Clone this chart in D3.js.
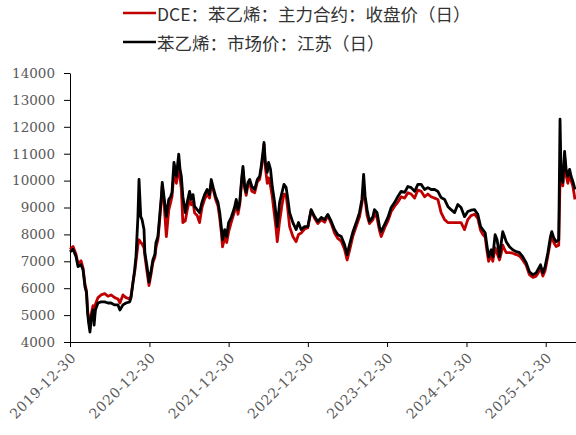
<!DOCTYPE html>
<html><head><meta charset="utf-8">
<script src="https://cdn.jsdelivr.net/npm/d3@7"></script>
<style>body{margin:0;background:#fff}svg{display:block}</style>
</head><body><svg id="c" width="576" height="435"></svg>
<script>
const dates = [
"2019-12-30","2020-01-13","2020-01-27","2020-02-05","2020-02-19","2020-02-28","2020-03-08","2020-03-15","2020-03-20","2020-03-25","2020-03-31","2020-04-06","2020-04-14","2020-04-19","2020-04-25","2020-05-07","2020-05-21","2020-06-07","2020-06-22","2020-07-06","2020-07-23","2020-08-07","2020-08-16","2020-08-30","2020-09-13","2020-09-30","2020-10-06","2020-10-15","2020-10-23","2020-10-29","2020-11-07","2020-11-12","2020-11-20","2020-11-26","2020-12-05","2020-12-09","2020-12-19","2020-12-28",
"2021-01-05","2021-01-15","2021-01-24","2021-01-29","2021-02-07","2021-02-15","2021-02-23","2021-02-27","2021-03-07","2021-03-18","2021-03-29","2021-04-07","2021-04-13","2021-04-22","2021-05-03","2021-05-14","2021-05-20","2021-05-26","2021-06-02","2021-06-13","2021-06-22","2021-07-03","2021-07-11","2021-07-19","2021-07-26","2021-08-07","2021-08-18","2021-08-29","2021-09-10","2021-09-22","2021-10-03","2021-10-11","2021-10-20","2021-10-31","2021-11-11","2021-11-19","2021-11-26","2021-12-02","2021-12-12","2021-12-21","2021-12-30",
"2022-01-11","2022-01-26","2022-02-03","2022-02-11","2022-02-19","2022-03-01","2022-03-06","2022-03-14","2022-03-21","2022-03-29","2022-04-06","2022-04-16","2022-04-29","2022-05-11","2022-05-22","2022-05-29","2022-06-06","2022-06-11","2022-06-17","2022-06-26","2022-07-02","2022-07-11","2022-07-19","2022-07-30","2022-08-06","2022-08-11","2022-08-22","2022-09-02","2022-09-11","2022-09-21","2022-09-29","2022-10-07","2022-10-22","2022-11-06","2022-11-17","2022-11-29","2022-12-15","2022-12-30",
"2023-01-14","2023-01-30","2023-02-14","2023-03-02","2023-03-17","2023-04-01","2023-04-17","2023-05-02","2023-05-17","2023-06-02","2023-06-17","2023-06-29","2023-07-10","2023-07-26","2023-08-10","2023-08-25","2023-09-05","2023-09-13","2023-09-20","2023-09-29","2023-10-10","2023-10-26","2023-11-02","2023-11-14","2023-11-25","2023-12-03","2023-12-19",
"2024-01-03","2024-01-18","2024-02-03","2024-02-18","2024-03-04","2024-03-20","2024-04-04","2024-04-19","2024-05-05","2024-05-20","2024-06-04","2024-06-20","2024-07-05","2024-07-20","2024-08-05","2024-08-20","2024-09-04","2024-09-20","2024-10-05","2024-10-20","2024-11-05","2024-11-20","2024-12-05","2024-12-21",
"2025-01-05","2025-01-20","2025-02-05","2025-02-20","2025-03-05","2025-03-15","2025-03-26","2025-04-04","2025-04-11","2025-04-23","2025-04-30","2025-05-11","2025-05-20","2025-05-31","2025-06-08","2025-06-15","2025-06-23","2025-07-01","2025-07-16","2025-07-31","2025-08-16","2025-08-31","2025-09-15","2025-10-01","2025-10-16","2025-11-01","2025-11-16","2025-11-24","2025-12-06","2025-12-17","2025-12-27",
"2026-01-09","2026-01-21","2026-01-27","2026-02-05","2026-02-16","2026-02-28","2026-03-06","2026-03-11","2026-03-19","2026-03-27","2026-04-03","2026-04-11","2026-04-19","2026-04-26","2026-05-04","2026-05-14"
];
// DCE：苯乙烯：主力合约：收盘价（日）
const dceClose = [
7450,7550,7250,6900,7020,6750,6150,5900,5200,4850,4500,5050,5350,4800,5400,5650,5750,5800,5700,5750,5650,5600,5450,5750,5650,5600,5700,6200,6600,7000,7600,7800,7700,7650,7500,7200,6600,6100,
6450,6950,7150,7500,7800,8500,9300,9800,9200,7920,8900,9200,9400,10300,9900,10500,10100,9700,8440,8500,8900,9300,9100,9200,8800,8700,8440,9000,9300,9500,9350,9900,9650,9300,9050,8600,8100,7540,7900,7700,8100,
8450,8850,9150,8750,9100,10050,10400,9700,9450,9850,9900,9600,9550,9950,10050,10400,10900,11350,10500,9900,10100,9800,9410,8660,8180,7730,8500,9100,9500,9450,8900,8290,7920,7730,8000,8050,8200,8250,
8900,8600,8400,8550,8450,8700,8400,8050,7850,7750,7450,7050,7400,7950,8300,8650,9150,9600,9300,8700,8400,8550,8800,8600,8150,7920,8250,
8500,8850,9050,9200,9400,9350,9550,9500,9350,9650,9600,9400,9500,9400,9350,9300,8810,8550,8440,8440,8440,8440,8440,8180,
8550,8700,8750,8600,8150,8000,7900,7350,7000,7250,7000,7500,7300,7050,7300,7600,7450,7320,7320,7300,7250,7200,7050,6850,6500,6400,6450,6550,6750,6450,6650,
7200,7750,7950,7700,7550,7600,10000,10100,9800,10900,10200,9900,10200,10000,9800,9300
];
// 苯乙烯：市场价：江苏（日）
const spotJiangsu = [
7350,7450,7170,6800,6870,6690,6050,5830,5080,4710,4370,4930,5190,4630,5190,5450,5490,5490,5450,5450,5380,5380,5190,5380,5450,5490,5640,6200,6690,7170,8660,10040,8660,8550,8180,7320,6800,6240,
6570,7060,7250,7690,7920,8660,9410,9930,9410,8660,9300,9410,9560,10680,10160,10980,10420,10160,9410,8810,9190,9600,9300,9480,9040,8920,8810,9190,9480,9670,9480,10040,9740,9410,9190,8810,8290,7800,8180,7920,8440,
8630,9000,9300,8920,9190,10160,10530,9780,9560,9930,10040,9780,9670,10040,10160,10530,11050,11420,10680,10310,10680,10420,9780,9190,8660,8290,9190,9560,9860,9740,9300,8810,8440,8180,8440,8180,8290,8290,
8920,8660,8480,8630,8550,8740,8480,8180,7990,7920,7620,7250,7620,8100,8440,8810,9300,10230,9410,8920,8480,8660,8920,8810,8290,8100,8370,
8630,9000,9190,9410,9600,9560,9780,9740,9600,9860,9860,9670,9740,9670,9670,9600,9370,9300,9040,8920,8810,9110,9000,8660,
8850,8900,8920,8750,8290,8180,8060,7540,7170,7430,7170,7990,7800,7170,7690,8100,7920,7730,7540,7430,7360,7320,7170,6950,6610,6500,6570,6690,6870,6570,6800,
7320,7920,8100,7880,7730,7800,12280,10160,9930,11090,10420,10160,10420,10160,9970,9670
];
const seriesNames = ["DCE：苯乙烯：主力合约：收盘价（日）", "苯乙烯：市场价：江苏（日）"];
const seriesColors = ["#c00000", "#000000"];
const yTicks = [4000,5000,6000,7000,8000,9000,10000,11000,12000,13000,14000];
const xTickLabels = ["2019-12-30","2020-12-30","2021-12-30","2022-12-30","2023-12-30","2024-12-30","2025-12-30"];

const parse = d3.timeParse("%Y-%m-%d");
const fmt = d3.timeFormat("%Y-%m-%d");
const svg = d3.select("#c");
const L = 70, R = 575, T = 73, B = 342;

const x = d3.scaleTime()
  .domain([parse(dates[0]), parse(dates[dates.length - 1])])
  .range([L, R]);
const y = d3.scaleLinear().domain([4000, 14000]).range([B, T]);

const tickFont = "'DejaVu Serif', serif";

// y axis
const ya = svg.append("g").attr("transform", `translate(${L},0)`)
  .call(d3.axisLeft(y).tickValues(yTicks).tickSize(6).tickPadding(9).tickSizeOuter(0).tickFormat(d3.format("d")));
ya.select(".domain").attr("stroke", "#000").attr("stroke-width", 1);
ya.selectAll(".tick line").attr("stroke", "#000");
ya.selectAll("text").attr("fill", "#595959").style("font-family", tickFont).style("font-size", "13.5px");

// x axis
const xa = svg.append("g").attr("transform", `translate(0,${B})`)
  .call(d3.axisBottom(x).tickValues(xTickLabels.map(parse)).tickSize(5).tickSizeOuter(0).tickFormat(fmt));
xa.select(".domain").remove();
xa.append("line").attr("x1", L).attr("x2", 576).attr("y1", 0.5).attr("y2", 0.5).attr("stroke", "#000");
xa.selectAll(".tick line").attr("stroke", "#000");
xa.selectAll("text")
  .attr("fill", "#595959")
  .style("font-family", tickFont).style("font-size", "14px")
  .style("letter-spacing", "0.6px")
  .attr("text-anchor", "end")
  .attr("y", 0).attr("dy", "0.35em")
  .attr("transform", "translate(3,13) rotate(-45)");

// lines
const rows = dates.map((d, i) => ({ date: parse(d), dce: dceClose[i], spot: spotJiangsu[i] }));
const mk = key => d3.line().x(d => x(d.date)).y(d => y(d[key]));
svg.append("path").datum(rows).attr("d", mk("dce"))
  .attr("fill", "none").attr("stroke", seriesColors[0]).attr("stroke-width", 2.8).attr("stroke-linejoin", "round");
svg.append("path").datum(rows).attr("d", mk("spot"))
  .attr("fill", "none").attr("stroke", seriesColors[1]).attr("stroke-width", 2.8).attr("stroke-linejoin", "round");

// legend
const lg = svg.append("g");
seriesNames.forEach((name, i) => {
  const yy = 13 + i * 29;
  lg.append("line").attr("x1", 123).attr("x2", 156).attr("y1", yy).attr("y2", yy)
    .attr("stroke", seriesColors[i]).attr("stroke-width", 2.5);
  lg.append("text").attr("x", 157).attr("y", yy).attr("dominant-baseline", "central")
    .attr("fill", "#333")
    .style("font-family", "'Noto Sans CJK SC', sans-serif").style("font-size", "17.5px")
    .text(name);
});
</script></body></html>
